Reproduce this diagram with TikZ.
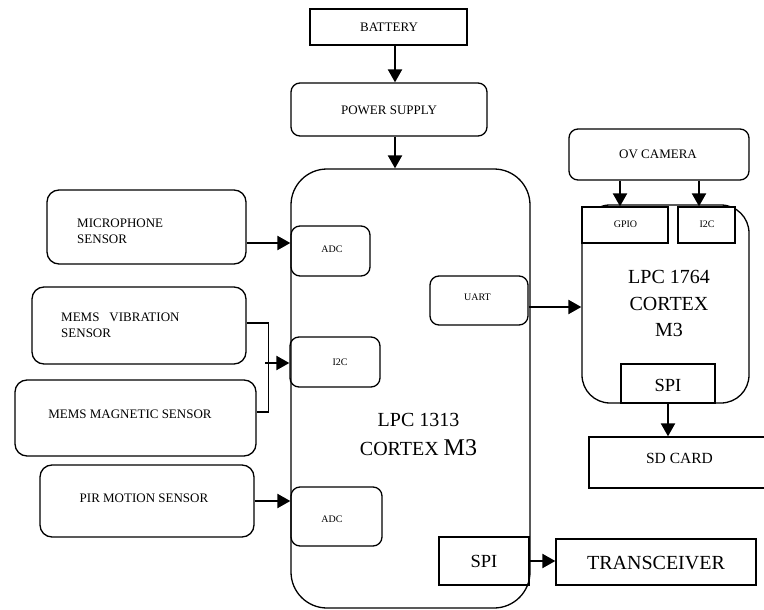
\documentclass[tikz,border=0pt]{standalone}
\usepackage{fontspec}
\setmainfont{Liberation Serif}
\usetikzlibrary{arrows.meta,calc}
\tikzset{
  box/.style={draw, line width=1.3pt, inner sep=0pt, minimum width=#1},
  rbox/.style={box=#1, rounded corners=9pt},
  txt/.style={inner sep=0pt, font=\fontsize{13}{16}\selectfont},
  small/.style={inner sep=0pt, font=\fontsize{10}{12}\selectfont},
  big/.style={inner sep=0pt, font=\fontsize{20}{26.5}\selectfont},
  mid/.style={inner sep=0pt, font=\fontsize{18.5}{22}\selectfont},
  arr/.style={line width=2.2pt, -{Triangle[length=13pt,width=14pt]}},
  wire/.style={line width=1.4pt},
}
\begin{document}
\begin{tikzpicture}[x=1pt,y=-1pt]
\useasboundingbox (0,0) rectangle (764,610);
% top
\node[box=157pt, minimum height=36pt] (battery) at (388.5,27) {};
\node[txt] (tbattery) at (389,27.5) {BATTERY};
\node[rbox=196pt, minimum height=53pt] (power) at (389,109.5) {};
\node[txt] (tpower) at (389,110) {POWER SUPPLY};
% main MCU
\node[box=239pt, minimum height=439pt, rounded corners=36pt] (lpc13) at (410.5,388.5) {};
\node[big] (tl13a) at (418.5,420) {LPC 1313};
\node[big] (tl13b) at (418.5,448) {CORTEX {\fontsize{24}{26}\selectfont M3}};
% sensors
\node[rbox=199pt, minimum height=74pt, rounded corners=12pt] (mic) at (146.5,227) {};
\node[txt, anchor=west, align=left] (tmic) at (77,231) {MICROPHONE\\SENSOR};
\node[rbox=214pt, minimum height=77pt, rounded corners=12pt] (vib) at (139,325.5) {};
\node[txt, anchor=west, align=left] (tvib) at (61,325) {MEMS\hspace{10pt}VIBRATION\\SENSOR};
\node[rbox=241pt, minimum height=76pt, rounded corners=12pt] (mag) at (135.5,418) {};
\node[txt] (tmag) at (130,414) {MEMS MAGNETIC SENSOR};
\node[rbox=214pt, minimum height=72pt, rounded corners=12pt] (pir) at (147,501) {};
\node[txt] (tpir) at (144,498) {PIR MOTION SENSOR};
% interfaces of LPC1313
\node[rbox=79pt, minimum height=50pt] (adc1) at (330.5,251) {};
\node[small] (tadc1) at (332,249) {ADC};
\node[rbox=90pt, minimum height=50pt] (i2c) at (335,362) {};
\node[small] (ti2c) at (340,362) {I2C};
\node[rbox=91pt, minimum height=59pt] (adc2) at (336.5,516.5) {};
\node[small] (tadc2) at (332,519) {ADC};
\node[rbox=98pt, minimum height=49pt] (uart) at (479,300.5) {};
\node[small] (tuart) at (477.5,297) {UART};
\node[box=90pt, minimum height=48pt] (spi13) at (484,561) {};
\node[mid] (tspi13) at (484,561) {SPI};
\node[box=200pt, minimum height=46pt] (trans) at (656,562) {};
\node[big] (ttrans) at (656,563) {TRANSCEIVER};
% camera side
\node[rbox=180pt, minimum height=51pt] (cam) at (659,154.5) {};
\node[txt] (tcam) at (658,154) {OV CAMERA};
\node[box=167pt, minimum height=198pt, rounded corners=28pt] (lpc17) at (665.5,304) {};
\node[box=86pt, minimum height=36pt, fill=white] (gpio) at (625,225) {};
\node[small] (tgpio) at (625.5,224) {GPIO};
\node[box=57pt, minimum height=36pt, fill=white] (i2cb) at (706.5,225) {};
\node[small] (ti2cb) at (707,224) {I2C};
\node[big, align=center] (tl17) at (669,303.5) {LPC 1764\\CORTEX\\M3};
\node[box=94pt, minimum height=39pt] (spi17) at (668,383.5) {};
\node[mid] (tspi17) at (668,385) {SPI};
\node[box=181pt, minimum height=51pt] (sd) at (679.5,462.5) {};
\node[txt, font=\fontsize{15.5}{18}\selectfont] (tsd) at (679.5,458) {SD CARD};
% connectors
\draw[arr] ([xshift=6.5pt]battery.south) -- ([xshift=6.5pt]battery.south |- power.north);
\draw[arr] ([xshift=6pt]power.south) -- ([xshift=6pt]power.south |- lpc13.north);
\draw[arr] ([yshift=-16pt]mic.east) -- ([yshift=-16pt]mic.east -| adc1.west);
\coordinate (jn) at (265,363);
\draw[wire] ([yshift=2.5pt]vib.east) -- ++(22,0) |- ([yshift=6pt]mag.east);
\draw[arr] (jn) -- (jn -| i2c.west);
\draw[arr] (pir.east) -- (pir.east -| adc2.west);
\draw[arr] ([yshift=-6.5pt]uart.east) -- ([yshift=-6.5pt]uart.east -| lpc17.west);
\draw[arr] ([xshift=-5pt]gpio.north |- cam.south) -- ([xshift=-5pt]gpio.north);
\draw[arr] ([xshift=-7.5pt]i2cb.north |- cam.south) -- ([xshift=-7.5pt]i2cb.north);
\draw[arr] (spi17.south) -- (spi17.south |- sd.north);
\draw[arr] (spi13.east) -- (spi13.east -| trans.west);
\end{tikzpicture}
\end{document}
